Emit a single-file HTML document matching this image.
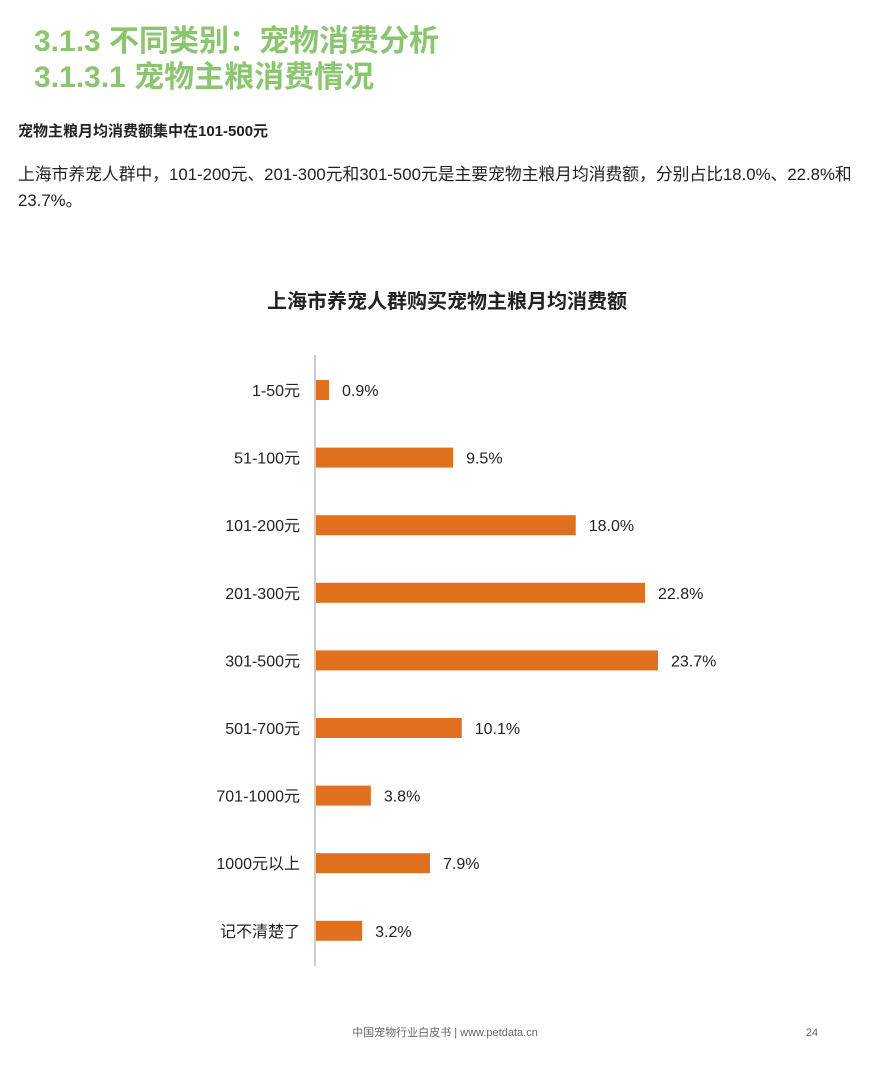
<!DOCTYPE html>
<html><head><meta charset="utf-8"><style>
body{margin:0;width:882px;height:1066px;background:#fff;position:relative;font-family:"Liberation Sans","Noto Sans CJK SC",sans-serif;overflow:hidden}
.h{position:absolute;left:34px;color:#8cc56f;font-weight:bold;font-size:30px;line-height:35px}
.t{position:absolute;left:18px;color:#222;font-size:15px}
</style></head><body>
<div class="h" style="top:24px">3.1.3 不同类别：宠物消费分析</div>
<div class="h" style="top:60px">3.1.3.1 宠物主粮消费情况</div>
<div class="t" style="top:120px;font-weight:bold;font-size:15px">宠物主粮月均消费额集中在101-500元</div>
<div class="t" style="top:162px;line-height:26px;width:864px;font-size:16.8px">上海市养宠人群中，101-200元、201-300元和301-500元是主要宠物主粮月均消费额，分别占比18.0%、22.8%和23.7%。</div>
<svg id="c" width="882" height="1066" style="position:absolute;left:0;top:0">
<text x="447" y="308" text-anchor="middle" font-size="20" font-weight="bold" fill="#222">上海市养宠人群购买宠物主粮月均消费额</text>
<line x1="315" y1="355" x2="315" y2="966" stroke="#ccc" stroke-width="2"/>
<text x="445" y="1036" text-anchor="middle" font-size="11" fill="#666">中国宠物行业白皮书 | www.petdata.cn</text>
<text x="812" y="1036" text-anchor="middle" font-size="11" fill="#666">24</text>
</svg>
<script>
const categories=["1-50元","51-100元","101-200元","201-300元","301-500元","501-700元","701-1000元","1000元以上","记不清楚了"];
const values=[0.9,9.5,18.0,22.8,23.7,10.1,3.8,7.9,3.2];
const svg=document.getElementById('c');
const NS='http://www.w3.org/2000/svg';
const x0=316, pxPer=14.43;
const xs=v=>v*pxPer;
const ys=i=>390+i*67.6;
categories.forEach((c,i)=>{
  const y=ys(i);
  const r=document.createElementNS(NS,'rect');
  r.setAttribute('x',x0);r.setAttribute('y',y-10);r.setAttribute('width',xs(values[i]));r.setAttribute('height',20);r.setAttribute('fill','#e0701e');
  
  
  svg.appendChild(r);
  const l=document.createElementNS(NS,'text');
  l.setAttribute('x',300);l.setAttribute('y',y+6);l.setAttribute('text-anchor','end');l.setAttribute('font-size','16');l.setAttribute('fill','#222');
  l.textContent=c;
  
  
  svg.appendChild(l);
  const v=document.createElementNS(NS,'text');
  v.setAttribute('x',x0+xs(values[i])+13);v.setAttribute('y',y+6);v.setAttribute('font-size','16');v.setAttribute('fill','#222');
  v.textContent=values[i].toFixed(1)+'%';
  
  
  svg.appendChild(v);
});
</script>
</body></html>
